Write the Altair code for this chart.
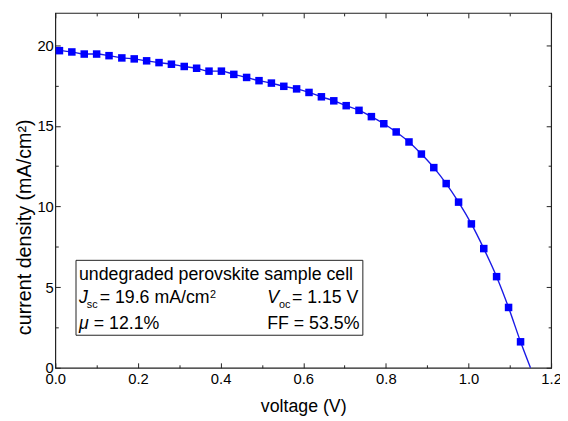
import altair as alt
import pandas as pd

# measured J-V points (voltage in V, current density in mA/cm^2)
voltage = [0.010, 0.040, 0.070, 0.100, 0.130, 0.161, 0.191, 0.221, 0.251, 0.281,
           0.312, 0.342, 0.372, 0.402, 0.432, 0.463, 0.493, 0.523, 0.553, 0.584,
           0.614, 0.644, 0.674, 0.704, 0.735, 0.765, 0.795, 0.825, 0.856, 0.886,
           0.916, 0.946, 0.976, 1.007, 1.037, 1.068, 1.097, 1.126]
current = [19.66, 19.58, 19.45, 19.45, 19.35, 19.21, 19.15, 19.03, 18.92, 18.82,
           18.68, 18.57, 18.39, 18.39, 18.19, 18.00, 17.80, 17.65, 17.45, 17.29,
           17.07, 16.80, 16.55, 16.25, 15.96, 15.57, 15.13, 14.62, 14.00, 13.25,
           12.41, 11.42, 10.27, 8.92, 7.39, 5.65, 3.74, 1.61]
# fitted curve continues to open-circuit voltage
voc = 1.15

x_major = [0.0, 0.2, 0.4, 0.6, 0.8, 1.0, 1.2]
x_minor = [0.1, 0.3, 0.5, 0.7, 0.9, 1.1]
y_major = [0, 5, 10, 15, 20]
y_minor = [2.5, 7.5, 12.5, 17.5]

pts = pd.DataFrame({"V": voltage, "J": current})
line_df = pd.DataFrame({"V": voltage + [voc], "J": current + [0.0]})

FONT = "Liberation Sans"
BLUE = "#0000FF"

xs = alt.Scale(domain=[0, 1.2], nice=False, zero=False)
ys = alt.Scale(domain=[0, 22], nice=False, zero=False)

common = dict(domain=False, grid=False, tickColor="#222", tickWidth=1,
              labelFont=FONT, labelFontSize=15, labelColor="black",
              labelOverlap=False, labelFlush=False)


def xaxis(orient, values, size, labels, title=None):
    kw = dict(common)
    kw.update(orient=orient, values=values, tickSize=size, offset=-size,
              labels=labels, title=title)
    if labels:
        kw.update(labelPadding=4, titleFont=FONT, titleFontSize=18,
                  titleFontWeight="normal", titleColor="black", titlePadding=11)
    return alt.Axis(**kw)


def yaxis(orient, values, size, labels, title=None):
    kw = dict(common)
    kw.update(orient=orient, values=values, tickSize=size, offset=-size,
              labels=labels, title=title)
    if labels:
        kw.update(labelPadding=2, titleFont=FONT, titleFontSize=20,
                  titleFontWeight="normal", titleColor="black",
                  titleX=-36, titleY=217, titleAngle=270,
                  titleAlign="center", titleBaseline="middle")
    return alt.Axis(**kw)


line = alt.Chart(line_df).mark_line(color="#1a1ae6", strokeWidth=1.4,
                                    interpolate="monotone").encode(
    x=alt.X("V:Q", scale=xs, axis=xaxis("bottom", x_major, 5, True, "voltage (V)")),
    y=alt.Y("J:Q", scale=ys, axis=yaxis("left", y_major, 5, True,
                                        "current density (mA/cm²)")),
)

points = alt.Chart(pts).mark_point(shape="square", filled=True, size=58,
                                   color=BLUE, opacity=1).encode(
    x=alt.X("V:Q", scale=xs, axis=xaxis("bottom", x_minor, 3, False)),
    y=alt.Y("J:Q", scale=ys, axis=yaxis("left", y_minor, 3, False)),
)

top_major = alt.Chart(pts).mark_point(opacity=0).encode(
    x=alt.X("V:Q", scale=xs, axis=xaxis("top", x_major, 5, False)),
    y=alt.Y("J:Q", scale=ys, axis=yaxis("right", y_major, 5, False)),
)
top_minor = alt.Chart(pts).mark_point(opacity=0).encode(
    x=alt.X("V:Q", scale=xs, axis=xaxis("top", x_minor, 3, False)),
    y=alt.Y("J:Q", scale=ys, axis=yaxis("right", y_minor, 3, False)),
)

one = pd.DataFrame({"k": [0]})
box = alt.Chart(one).mark_rect(fill="white", stroke="#222", strokeWidth=1).encode(
    x=alt.value(21), x2=alt.value(312), y=alt.value(251), y2=alt.value(327))


def txt(s, x, y, size=18, style="normal"):
    return alt.Chart(one).mark_text(text=s, font=FONT, fontSize=size,
                                    fontStyle=style, align="left",
                                    baseline="alphabetic", color="black").encode(
        x=alt.value(x), y=alt.value(y))


texts = [
    txt("undegraded perovskite sample cell", 24, 271),
    txt("J", 24, 294, style="italic"),
    txt("sc", 32, 299, size=11),
    txt("= 19.6 mA/cm", 45, 294),
    txt("2", 157, 289, size=11),
    txt("V", 215, 294, style="italic"),
    txt("oc", 227, 299, size=11),
    txt("= 1.15 V", 240, 294),
    txt("μ", 24, 321, style="italic"),
    txt("= 12.1%", 39, 321),
    txt("FF = 53.5%", 215, 321),
]

chart = alt.layer(line, points, top_major, top_minor, box, *texts).resolve_axis(
    x="independent", y="independent"
).properties(
    width=503, height=360,
    autosize=alt.AutoSizeParams(type="none"),
    padding={"left": 48, "top": 2, "right": 9, "bottom": 51},
).configure_view(stroke="#222", strokeWidth=1.2)

chart.save("out.html", embed_options={"renderer": "svg", "actions": False})
